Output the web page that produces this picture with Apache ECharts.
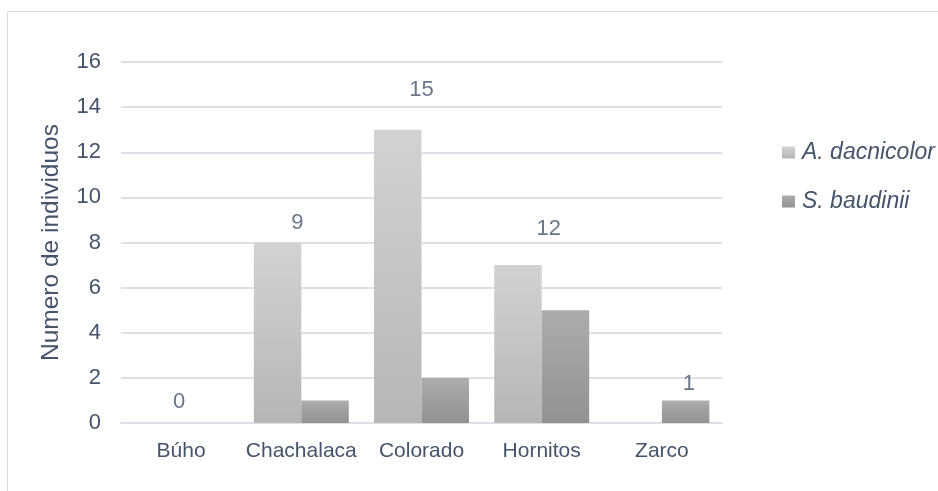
<!DOCTYPE html>
<html>
<head>
<meta charset="utf-8">
<script src="https://cdn.jsdelivr.net/npm/echarts@6/dist/echarts.min.js"></script>
<style>
  html, body { margin: 0; padding: 0; background: #fff; }
  #chart { width: 938px; height: 491px; }
</style>
</head>
<body>
<div id="chart"></div>
<script>
// Individuals counted per site, by species
const sites = ['Búho', 'Chachalaca', 'Colorado', 'Hornitos', 'Zarco'];
const dacnicolor = [0, 8, 13, 7, 0];
const baudinii = [0, 1, 2, 5, 1];
const totals = [0, 9, 15, 12, 1];
const seriesNames = ['A. dacnicolor', 'S. baudinii'];
const yTicks = [0, 2, 4, 6, 8, 10, 12, 14, 16];

const textColor = '#44546a';
const font = 'Liberation Sans, Arial, sans-serif';
const gridColor = '#dde1e7';

// nudges for the total labels, one per site
const totalLabelShift = [[-2, -21], [-4, 3], [0, 5], [7, 77], [27, -17]];

function vGrad(top, bottom) {
  return new echarts.graphic.LinearGradient(0, 0, 0, 1, [
    { offset: 0, color: top },
    { offset: 1, color: bottom }
  ]);
}

const chart = echarts.init(document.getElementById('chart'), null, { renderer: 'canvas' });

chart.setOption({
  animation: false,
  backgroundColor: '#ffffff',
  textStyle: { fontFamily: font },
  graphic: [{
    type: 'rect',
    left: 5, top: 9,
    shape: { width: 1000, height: 1000 },
    style: { fill: 'none', stroke: '#d9dde3', lineWidth: 1 },
    silent: true
  }],
  grid: { left: 121, right: 216, top: 62, bottom: 68 },
  legend: {
    orient: 'vertical',
    left: 777,
    top: 136,
    itemWidth: 13,
    itemHeight: 12,
    itemGap: 26,
    icon: 'rect',
    data: seriesNames,
    textStyle: { color: textColor, fontSize: 23, fontStyle: 'italic', fontFamily: font, padding: [0, 0, 0, 2] }
  },
  xAxis: {
    type: 'category',
    data: sites,
    axisLine: { show: true, lineStyle: { color: gridColor, width: 2 } },
    axisTick: { show: false },
    axisLabel: { color: textColor, fontSize: 21, fontFamily: font, margin: 18, interval: 0 }
  },
  yAxis: {
    type: 'value',
    min: yTicks[0],
    max: yTicks[yTicks.length - 1],
    interval: yTicks[1] - yTicks[0],
    name: 'Numero de individuos',
    nameLocation: 'middle',
    nameGap: 57,
    nameTextStyle: { color: textColor, fontSize: 24.5, fontFamily: font },
    axisLine: { show: false },
    axisTick: { show: false },
    axisLabel: { color: textColor, fontSize: 22, fontFamily: font, margin: 20 },
    splitLine: { lineStyle: { color: gridColor, width: 2 } }
  },
  series: [
    {
      name: seriesNames[0],
      type: 'bar',
      data: dacnicolor,
      barGap: '0%',
      barCategoryGap: '21%',
      itemStyle: { color: vGrad('#d2d2d2', '#b6b6b6') }
    },
    {
      name: seriesNames[1],
      type: 'bar',
      data: baudinii,
      itemStyle: { color: vGrad('#acacac', '#929292') }
    },
    {
      name: 'Total',
      type: 'scatter',
      symbolSize: 0,
      silent: true,
      data: totals.map((v, i) => ({
        value: v,
        label: { offset: totalLabelShift[i] }
      })),
      label: {
        show: true,
        position: 'inside',
        color: textColor,
        fontSize: 22,
        fontFamily: font,
        formatter: p => String(p.value)
      },
      z: 5
    }
  ]
});
</script>
</body>
</html>
